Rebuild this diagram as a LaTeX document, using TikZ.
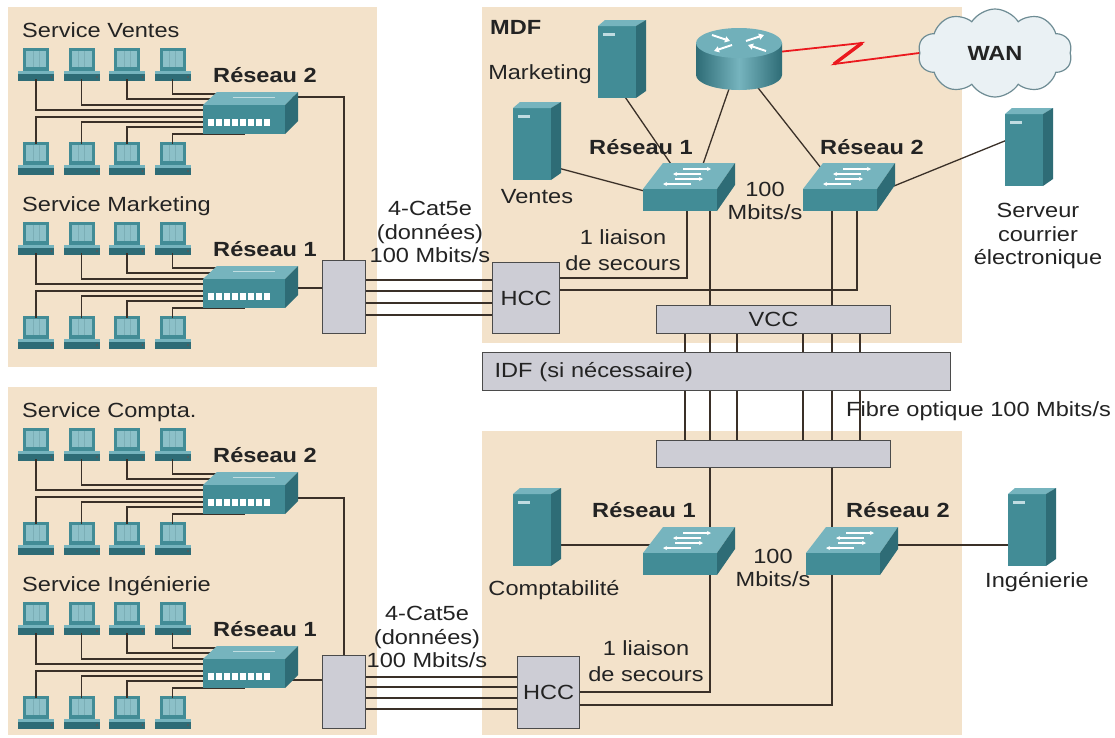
\documentclass[tikz,border=0pt]{standalone}
\usepackage{fontspec}
\setmainfont[FakeStretch=1.15]{Liberation Sans}
\usetikzlibrary{shapes.symbols,arrows.meta}

\definecolor{panelbg}{RGB}{243,226,202}
\definecolor{boxfill}{RGB}{205,205,213}
\definecolor{boxline}{RGB}{75,75,75}
\definecolor{wirec}{RGB}{58,48,40}
\definecolor{tealtop}{RGB}{118,180,190}
\definecolor{tealfront}{RGB}{66,140,150}
\definecolor{tealside}{RGB}{46,108,118}
\definecolor{screenc}{RGB}{140,192,200}
\definecolor{txt}{RGB}{35,35,35}
\definecolor{cloudfill}{RGB}{234,241,244}
\definecolor{cloudline}{RGB}{110,140,148}
\definecolor{zap}{RGB}{235,25,30}

\tikzset{
  wire/.style={draw=wirec, line width=1.3pt},
  lbl/.style={text=txt, font=\fontsize{20.5}{23.5}\selectfont, align=center, inner sep=0pt},
  blbl/.style={lbl, font=\fontsize{20.5}{23.5}\selectfont\bfseries},
  cabinet/.style={draw=boxline, fill=boxfill, line width=1.2pt, inner sep=0pt,
    anchor=north west, text=txt, font=\fontsize{20.5}{23.5}\selectfont},
  zapline/.style={draw=zap, line width=1.8pt, line join=miter},
  % desktop computer: monitor on a flat base
  pcicon/.pic={
    \fill[tealside] (-18,23) rectangle (18,33);
    \fill[tealtop] (-18,23) rectangle (18,26);
    \fill[tealfront] (-13,0) rectangle (13,23);
    \fill[screenc] (-10,3) rectangle (10,19);
    \draw[tealfront!70!white, line width=0.6pt] (-3,3) -- (-3,19) (3,3) -- (3,19);
    \fill[black!65] (15.5,29) circle (1.2);
    \coordinate (-top) at (0,2);
    \coordinate (-bot) at (0,31);
  },
  % hub with a row of ports on the front
  hubicon/.pic={
    \fill[tealtop] (14,0) -- (95,0) -- (82,13) -- (0,13) -- cycle;
    \fill[tealfront] (0,13) rectangle (82,42);
    \fill[tealside] (82,13) -- (95,0) -- (95,29) -- (82,42) -- cycle;
    \draw[white, opacity=.55, line width=1pt] (30,5) -- (72,5);
    \foreach \k in {0,...,7} \fill[white] ({5+\k*8},27) rectangle ++(6,7);
  },
  % workgroup switch with arrows on its top face
  switchicon/.pic={
    \fill[tealtop] (20,0) -- (92,0) -- (74,26) -- (0,26) -- cycle;
    \fill[tealfront] (0,26) rectangle (74,48);
    \fill[tealside] (74,26) -- (92,0) -- (92,22) -- (74,48) -- cycle;
    \begin{scope}[white, line width=1.1pt, -{Stealth[length=4pt,width=4pt]}]
      \draw (40,6) -- (68,6);
      \draw (58,11) -- (30,11);
      \draw (32,16) -- (60,16);
      \draw (48,21) -- (20,21);
    \end{scope}
  },
  % tower server
  servericon/.pic={
    \fill[tealfront] (0,6) rectangle (38,78);
    \fill[tealtop] (0,6) -- (7,0) -- (48,0) -- (38,6) -- cycle;
    \fill[tealside] (38,6) -- (48,0) -- (48,71) -- (38,78) -- cycle;
    \fill[screenc!55!white] (5,13) rectangle (17,16);
  },
  % router cylinder
  routericon/.pic={
    \shade[left color=tealside, right color=tealside, middle color=tealtop]
      (-43,0) -- (-43,32) arc[start angle=180, end angle=0, x radius=43, y radius=15] -- (43,0) -- cycle;
    \fill[tealtop!90!tealfront] (0,0) ellipse[x radius=43, y radius=15];
    \begin{scope}[white, line width=2pt, -{Triangle[length=5pt,width=6pt]}]
      \draw (-27,-8) -- (-9,-2);
      \draw (27,8) -- (9,2);
      \draw (7,-2) -- (25,-8);
      \draw (-7,2) -- (-25,8);
    \end{scope}
  }
}

\begin{document}
\begin{tikzpicture}[x=1pt,y=-1pt]
\fill[white] (0,0) rectangle (1115,737);
\useasboundingbox (0,0) rectangle (1115,737);

% ---- background areas
\fill[panelbg] (8,7) rectangle (377,367);
\fill[panelbg] (8,387) rectangle (377,735);
\fill[panelbg] (482,7) rectangle (962,343);
\fill[panelbg] (482,431) rectangle (962,735);

% ---- cross-connects
\node[cabinet, minimum width=43, minimum height=73] (pp1) at (322,260) {};
\node[cabinet, minimum width=43, minimum height=73] (pp2) at (322,655) {};
\node[cabinet, minimum width=67, minimum height=71] (hcc1) at (492,262) {HCC};
\node[cabinet, minimum width=62, minimum height=72] (hcc2) at (517,656) {HCC};
\node[cabinet, minimum width=234, minimum height=28] (vcc) at (656,305) {VCC};
\node[cabinet, minimum width=234, minimum height=27] (lbox) at (656,440) {};

% fibre backbone
\foreach \d in {29,54,81,147,176,204}{
  \draw[wire] ([xshift=\d pt]vcc.south west) -- ([xshift=\d pt]lbox.north west);
}
\node[cabinet, minimum width=468, minimum height=38, text width=444, align=left,
      inner xsep=12pt] (idf) at (482,352) {IDF (si nécessaire)};

% ---- device ports
\coordinate (mkt-out) at (623,94);
\coordinate (ven-out) at (558,168);
\coordinate (s1-mkt) at (673,167);
\coordinate (s1-rtr) at (702,167);
\coordinate (s1-ven) at (648,192);
\coordinate (s1-dn1) at (687,200);
\coordinate (s1-dn2) at (710,200);
\coordinate (s2-rtr) at (821,168);
\coordinate (s2-srv) at (889,188);
\coordinate (s2-dn1) at (832,200);
\coordinate (s2-dn2) at (857,200);
\coordinate (rtr-s1) at (730,86);
\coordinate (rtr-s2) at (755,84);
\coordinate (rtr-wan) at (778,52);
\coordinate (mail-in) at (1012,138);
\coordinate (zz1) at (862,43);
\coordinate (zz2) at (834,64);
\coordinate (cpt-out) at (555,545);
\coordinate (b1-cpt) at (652,545);
\coordinate (b1-up) at (710,535);
\coordinate (b1-dn) at (710,565);
\coordinate (b2-up) at (832,535);
\coordinate (b2-dn) at (832,565);
\coordinate (b2-ing) at (895,545);
\coordinate (ing-in) at (1012,545);
\coordinate (hA) at ([yshift=-16pt]hcc1.north east);
\coordinate (hB) at ([yshift=-28pt]hcc1.north east);
\coordinate (hC) at ([yshift=-36pt]hcc2.north east);
\coordinate (hD) at ([yshift=-49pt]hcc2.north east);
\coordinate (ahr) at (292,97);
\coordinate (bhr) at (292,288);
\coordinate (chr) at (292,498);
\coordinate (dhr) at (288,680);

% ---- MDF cabling
\draw[wire] (mkt-out) -- (s1-mkt);
\draw[wire] (rtr-s1) -- (s1-rtr);
\draw[wire] (rtr-s2) -- (s2-rtr);
\draw[wire] (ven-out) -- (s1-ven);
\draw[wire] (s2-srv) -- (mail-in);
\draw[wire] (s1-dn2) -- (s1-dn2 |- vcc.north);
\draw[wire] (s2-dn1) -- (s2-dn1 |- vcc.north);
\draw[wire] (hA) -| (s1-dn1);
\draw[wire] (hB) -| (s2-dn2);

% ---- lower floor cabling
\draw[wire] (b1-up |- lbox.south) -- (b1-up);
\draw[wire] (b2-up |- lbox.south) -- (b2-up);
\draw[wire] (hC) -| (b1-dn);
\draw[wire] (hD) -| (b2-dn);
\draw[wire] (cpt-out) -- (b1-cpt);
\draw[wire] (b2-ing) -- (ing-in);

% ---- horizontal runs, 4 x Cat5e
\foreach \k/\o/\p in {1/20/22, 2/31/32, 3/43/43, 4/55/54}{
  \coordinate (pa\k) at ([yshift=-\o pt]pp1.north east);
  \draw[wire] (pa\k) -- (pa\k -| hcc1.west);
  \coordinate (pb\k) at ([yshift=-\p pt]pp2.north east);
  \draw[wire] (pb\k) -- (pb\k -| hcc2.west);
}
\draw[wire] (ahr) -| (pp1.north);
\draw[wire] (bhr) -- (bhr -| pp1.west);
\draw[wire] (chr) -| (pp2.north);
\draw[wire] (dhr) -- (dhr -| pp2.west);

% ---- WAN link
\node[cloud, cloud puffs=10, cloud puff arc=115, aspect=1.75, draw=cloudline, fill=cloudfill,
      line width=1.2pt, minimum width=154, minimum height=88, inner sep=0pt,
      text=txt, font=\fontsize{20.5}{23.5}\selectfont\bfseries] (wan) at (995,53) {WAN};
\draw[zapline] (rtr-wan) -- (zz1) -- (zz2) -- (wan.west);
\draw[zap, line width=3.4pt] (zz1) -- (zz2);

% ---- devices
\pic (rtr) at (739,43) {routericon};
\pic (srvM) at (598,20) {servericon};
\pic (srvV) at (513,102) {servericon};
\pic (srvE) at (1005,108) {servericon};
\pic (srvC) at (513,488) {servericon};
\pic (srvI) at (1008,488) {servericon};
\pic (sw1) at (643,163) {switchicon};
\pic (sw2) at (803,163) {switchicon};
\pic (sw3) at (643,527) {switchicon};
\pic (sw4) at (806,527) {switchicon};

% ---- departments with their hubs
\foreach \g/\dy/\svc/\net in {a/0/Service Ventes/2, b/174/Service Marketing/1,
                              c/380/Service Compta./2, d/554/Service Ingénierie/1}{
  \node[lbl, anchor=base west] (\g svc) at (22,{37+\dy}) {\svc};
  \node[blbl] (\g net) at (265,{75+\dy}) {Réseau \net};
  \foreach \i/\x/\ya/\yb in {1/36/110/117, 2/81.5/105/122, 3/127/99/127, 4/172.5/94/134}{
    \pic (\g u\i) at (\x,{48+\dy}) {pcicon};
    \pic (\g l\i) at (\x,{142+\dy}) {pcicon};
    \coordinate (\g iu\i) at (245,{\ya+\dy});
    \coordinate (\g il\i) at (245,{\yb+\dy});
    \draw[wire] (\g u\i-bot) |- (\g iu\i);
    \draw[wire] (\g l\i-top) |- (\g il\i);
  }
  \pic (\g hub) at (203,{92+\dy}) {hubicon};
}

% ---- labels
\node[blbl, anchor=west] (mdf) at (490,27) {MDF};
\node[lbl] (tmkt) at (540,74) {Marketing};
\node[lbl] (tven) at (537,197) {Ventes};
\node[blbl] (tr1) at (641,147) {Réseau 1};
\node[blbl] (tr2) at (872,147) {Réseau 2};
\node[lbl] (tspd1) at (765,201) {100\\Mbits/s};
\node[lbl] (tmail) at (1038,236) {Serveur\\courrier\\électronique};
\node[lbl, font=\fontsize{20.5}{25.5}\selectfont] (tsec1) at (623,250) {1 liaison\\de secours};
\node[lbl] (tcat1) at (430,232) {4-Cat5e\\(données)\\100 Mbits/s};
\node[lbl, anchor=west] (tfib) at (846,411) {Fibre optique 100 Mbits/s};
\node[blbl] (tr3) at (644,510) {Réseau 1};
\node[blbl] (tr4) at (898,510) {Réseau 2};
\node[lbl] (tcpt) at (554,590) {Comptabilité};
\node[lbl] (ting) at (1037,582) {Ingénierie};
\node[lbl] (tspd2) at (773,568) {100\\Mbits/s};
\node[lbl, font=\fontsize{20.5}{25.5}\selectfont] (tsec2) at (646,661) {1 liaison\\de secours};
\node[lbl] (tcat2) at (427,637) {4-Cat5e\\(données)\\100 Mbits/s};
\end{tikzpicture}
\end{document}
